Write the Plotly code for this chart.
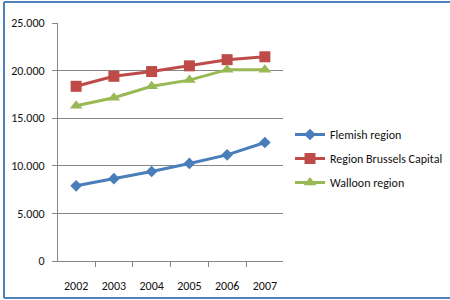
import plotly.graph_objects as go

years = ["2002", "2003", "2004", "2005", "2006", "2007"]
flemish = [7900, 8650, 9400, 10250, 11150, 12450]
brussels = [18350, 19400, 19900, 20500, 21150, 21450]
walloon = [16300, 17150, 18350, 19000, 20100, 20100]
names = ["Flemish region", "Region Brussels Capital", "Walloon region"]
colors = ["#4A7EBB", "#BE4B48", "#98B954"]
symbols = ["diamond", "square", "triangle-up"]
msizes = [9, 11, 11]

fig = go.Figure()
for i, (vals, name, c, s, ms) in enumerate(zip([flemish, brussels, walloon], names, colors, symbols, msizes)):
    fig.add_trace(go.Scatter(x=years, y=vals, name=name, mode="lines+markers",
                             legendgroup=f"g{i}",
                             line=dict(color=c, width=3),
                             marker=dict(symbol=s, size=ms, color=c)))

FONT = "Carlito, 'Liberation Sans Narrow', 'Roboto Condensed', 'Liberation Sans', sans-serif"
L, R, T, B = 58, 283, 23, 261
W, H = R - L, B - T
bx0, bx1, by0, by1 = (4 - L) / W, (450 - L) / W, (B - 298) / H, (B - 2) / H
border = dict(color="#4F81BD", width=2)
fig.update_layout(
    width=450, height=300,
    margin=dict(l=L, r=450 - R, t=T, b=300 - B, pad=0, autoexpand=False),
    paper_bgcolor="white", plot_bgcolor="white",
    separators=",.",
    font=dict(family=FONT, size=12, color="#111"),
    showlegend=True,
    legend=dict(xref="container", yref="container", x=290 / 450, y=1 - 120 / 300,
                xanchor="left", yanchor="top",
                bgcolor="rgba(0,0,0,0)", tracegroupgap=5,
                font=dict(family=FONT, size=12, color="#111")),
    xaxis=dict(type="category", showgrid=False, showline=True, linecolor="#868686",
               linewidth=1, ticks="outside", tickson="boundaries", ticklen=5,
               tickcolor="#868686", ticklabelstandoff=14,
               tickfont=dict(family=FONT, size=12, color="#111")),
    yaxis=dict(range=[0, 25000], dtick=5000, tickformat=",.0f", showgrid=True,
               gridcolor="#868686", gridwidth=1, showline=True, linecolor="#868686",
               ticks="outside", ticklen=5, tickcolor="#868686", zeroline=False,
               ticklabelstandoff=5,
               tickfont=dict(family=FONT, size=12, color="#111")),
    shapes=[
        dict(type="line", xref="paper", yref="paper", x0=bx0, x1=bx0, y0=by0, y1=by1, line=border),
        dict(type="line", xref="paper", yref="paper", x0=bx0, x1=bx1, y0=by1, y1=by1, line=border),
        dict(type="line", xref="paper", yref="paper", x0=bx0, x1=bx1, y0=by0, y1=by0, line=border),
    ],
)
fig.write_html("out.html", post_script="document.body.style.margin='0';",
               config={"displayModeBar": False})
